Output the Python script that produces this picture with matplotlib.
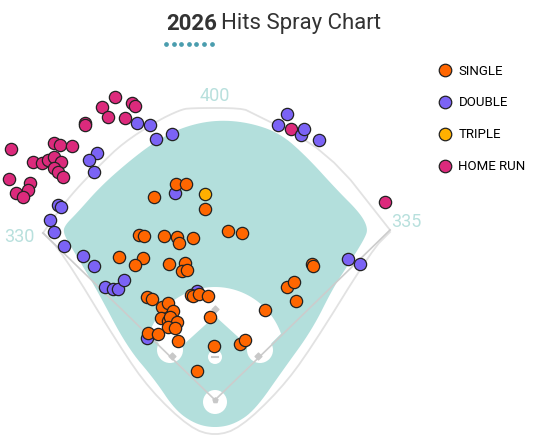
import numpy as np
import matplotlib.pyplot as plt
from matplotlib.patches import Polygon, Circle
from matplotlib.lines import Line2D

# hit locations, home plate at (0, 0), y toward center field
singles_x = [-39, -29, -61, -10, -76, -71, -51, -38, -36, -22, 13, 27, -96, -72, -80, -46,
             -30, -33, -28, 97, 98, 72, 79, 81, 50, -68, -63, -53, -47, -42, -54, -47, -45,
             -38, -47, -40, -67, -57, -37, -24, -22, -16, -7, -5, -1, 25, 30, -18]
singles_y = [216, 216, 203, 191, 165, 164, 164, 163, 157, 162, 169, 167, 143, 142, 135, 136,
             137, 129, 130, 136, 134, 113, 118, 99, 90, 103, 101, 93, 97, 89, 82, 79, 83,
             78, 73, 72, 67, 66, 59, 105, 104, 106, 104, 83, 54, 56, 60, 29]
doubles_x = [-40, -78, -65, -59, -43, -118, -126, -121, -157, -154, -165, -161, -151, -132,
             -121, -110, -102, -97, -91, -68, -18, 72, 63, 86, 89, 104, 133, 145]
doubles_y = [207, 277, 275, 261, 266, 247, 240, 228, 195, 193, 180, 168, 154, 144,
             134, 113, 111, 111, 120, 62, 109, 286, 275, 265, 271, 260, 141, 136]
triples_x = [-10]
triples_y = [206]
homers_x = [-100, -83, -80, -113, -107, -90, -130, -130, -204, -161, -155, -143, -182, -173,
            -167, -161, -154, -161, -157, -152, -206, -185, -187, -199, -192, 76, 170]
homers_y = [303, 297, 294, 293, 283, 282, 277, 275, 251, 257, 255, 254, 238, 237,
            240, 243, 238, 232, 228, 223, 221, 217, 210, 207, 203, 271, 198]

hit_types = ['SINGLE', 'DOUBLE', 'TRIPLE', 'HOME RUN']
hit_colors = ['#FF6600', '#7B63F5', '#FFB000', '#DC2A7C']

# field outline points
teal_pts = [(-152, 167), (-150, 175), (-138, 187), (-115, 213), (-88, 237), (-62, 257),
            (-35, 272), (-2, 280), (32, 278), (65, 267), (92, 243), (122, 210), (145, 187),
            (153, 172), (150, 162), (135, 138), (118, 112), (97, 70), (68, 30), (40, -10),
            (20, -24), (0, -28), (-20, -24), (-40, -10), (-60, 20), (-88, 53), (-118, 110),
            (-142, 150)]
wall_pts = [(-172, 167), (-152, 195), (-135, 215), (-115, 235), (-92, 257), (-58, 279),
            (-35, 290), (-25, 292), (27, 292), (37, 287), (112, 250), (175, 170)]
stands_pts = [(-172, 167), (-153, 148), (-95, 53), (-65, 10), (-25, -28), (0, -36),
              (25, -28), (65, 10), (95, 50), (157, 150), (175, 168)]

TEAL = '#B3DFDC'
LINE = '#E2E2E2'
FOUL = '#CCCCCC'


def smooth(pts, n=3, closed=True):
    pts = np.asarray(pts, float)
    for _ in range(n):
        if closed:
            nxt = np.roll(pts, -1, axis=0)
            pts = np.column_stack([0.75 * pts + 0.25 * nxt, 0.25 * pts + 0.75 * nxt]).reshape(-1, 2)
        else:
            a, b = pts[:-1], pts[1:]
            mid = np.column_stack([0.75 * a + 0.25 * b, 0.25 * a + 0.75 * b]).reshape(-1, 2)
            pts = np.vstack([pts[:1], mid, pts[-1:]])
    return pts


fig = plt.figure(figsize=(5.35, 4.45), dpi=100)
ax = fig.add_axes([0, 0, 1, 1])
ax.set_xlim(-215, 320)
ax.set_ylim(-45, 400)
ax.axis('off')

# grass
ax.add_patch(Polygon(smooth(teal_pts), closed=True, fc=TEAL, ec='none', zorder=1))

# walls
w = smooth(wall_pts, 2, closed=False)
ax.plot(w[:, 0], w[:, 1], color=LINE, lw=1.3, zorder=2)
s = smooth(stands_pts, 2, closed=False)
ax.plot(s[:, 0], s[:, 1], color=LINE, lw=1.3, zorder=2)

# infield dirt
mound = (0, 43)
r = 70
t = np.linspace(np.radians(-25), np.radians(205), 120)
arc = np.column_stack([mound[0] + r * np.cos(t), mound[1] + r * np.sin(t)])
keep = (arc[:, 1] >= np.abs(arc[:, 0]) - 2)
dirt = np.vstack([[(0, 0)], arc[keep]])
ax.add_patch(Polygon(dirt, closed=True, fc='white', ec='none', zorder=2))
ax.add_patch(Polygon([(0, 0), (-44, 44), (0, 84), (44, 44)], closed=True, fc=TEAL, ec='none', zorder=3))
for cx, cy, cr in [(-45, 50, 13), (45, 50, 13), (0, -2, 12), (0, 43, 7)]:
    ax.add_patch(Circle((cx, cy), cr, fc='white', ec='none', zorder=4))

# foul lines and bases
ax.plot([-172, 0, 175], [167, 0, 170], color=FOUL, lw=1.2, zorder=5)
ax.scatter([43, 0, -43], [44, 91, 44], marker='D', s=12, color='#C8C8C8', zorder=6)
ax.scatter([0], [0], marker='p', s=14, color='#C8C8C8', zorder=6)
ax.plot([-3, 3], [43, 43], color='#C8C8C8', lw=1.5, zorder=6)

# distance labels
for tx, ty, txt, ha in [(0, 304, '400', 'center'), (-196, 163, '330', 'center'), (176, 178, '335', 'left')]:
    ax.text(tx, ty, txt, ha=ha, va='center', fontsize=13, color='#B8E0DD', family='Roboto', zorder=7)

# hits, drawn home runs first and singles on top
series = [(homers_x, homers_y, 3), (doubles_x, doubles_y, 1),
          (triples_x, triples_y, 2), (singles_x, singles_y, 0)]
for z, (xs, ys, i) in enumerate(series):
    ax.scatter(xs, ys, s=78, color=hit_colors[i], edgecolor='#222222', linewidth=0.9, zorder=10 + z)

handles = [Line2D([], [], ls='none', marker='o', markersize=9, markerfacecolor=c,
                  markeredgecolor='#222222', markeredgewidth=0.9) for c in hit_colors]
fig.legend(handles, hit_types, loc='upper left', bbox_to_anchor=(432 / 535, 1 - 58 / 445),
           frameon=False, borderpad=0, handlelength=1.0, handletextpad=0.5,
           labelspacing=1.43, prop={'family': 'Roboto', 'size': 9.5})

# title
t1 = fig.text(166 / 535, 1 - 24 / 445, '2026', ha='left', va='center', fontsize=16,
              fontweight='bold', family='Roboto', color='#333333')
fig.canvas.draw()
bb = t1.get_window_extent()
fig.text((bb.x1 + 4) / 535, 1 - 24 / 445, 'Hits Spray Chart', ha='left', va='center',
         fontsize=16, family='Roboto', color='#333333')
dots_x = [(166 + 7.6 * k) / 535 for k in range(7)]
fig.add_artist(Line2D(dots_x, [1 - 44 / 445] * 7, ls='none', marker='o', markersize=2.4,
                      color='#4A9DAE', transform=fig.transFigure))

fig.savefig('out.png', dpi=100)
